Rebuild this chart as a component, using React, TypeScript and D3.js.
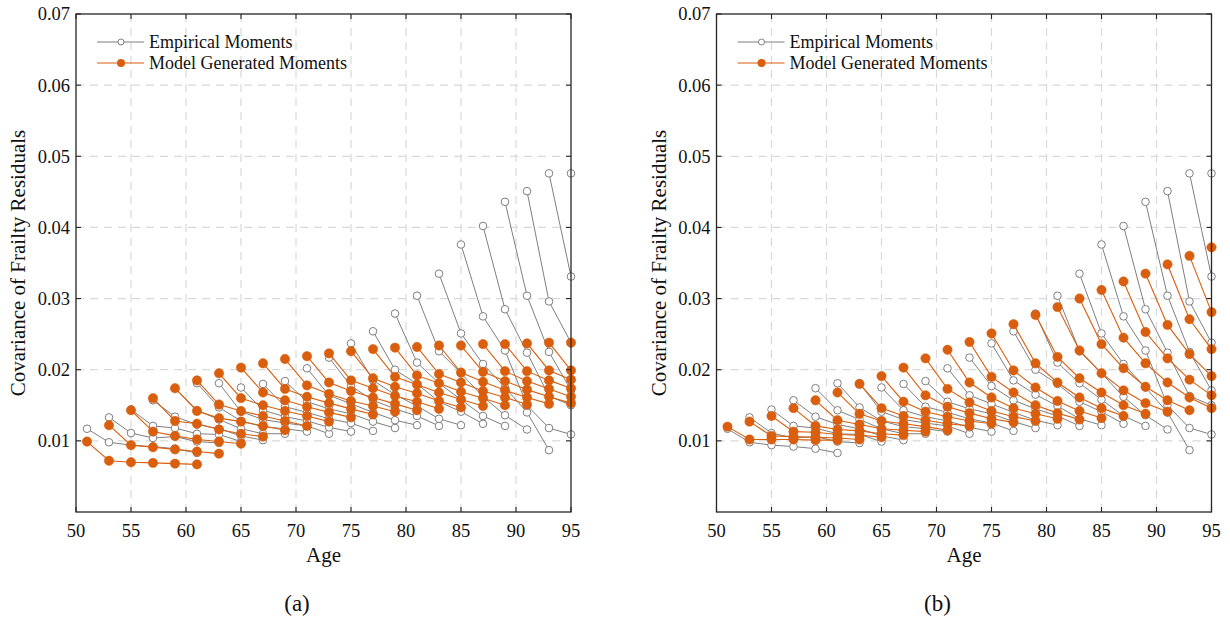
import React from 'react';
import * as d3 from 'd3';

// Starting age of each covariance profile (lags of 0, 2, 4, ... years)
const START_AGES = [51, 53, 55, 57, 59, 61, 63, 65, 67, 69, 71, 73, 75, 77, 79, 81, 83, 85, 87, 89, 91, 93, 95];

// Empirical moments (same in both panels), one row per starting age
const EMPIRICAL = [
  [0.0117, 0.0098, 0.0094, 0.0092, 0.0089, 0.0083],
  [0.0133, 0.0111, 0.0104, 0.0106, 0.0099, 0.0097],
  [0.0144, 0.0121, 0.0118, 0.0110, 0.0109, 0.0099],
  [0.0157, 0.0134, 0.0123, 0.0117, 0.0107, 0.0101],
  [0.0174, 0.0143, 0.0130, 0.0117, 0.0110, 0.0110],
  [0.0181, 0.0147, 0.0128, 0.0120, 0.0117, 0.0113],
  [0.0181, 0.0141, 0.0130, 0.0125, 0.0121, 0.0110],
  [0.0175, 0.0143, 0.0134, 0.0128, 0.0119, 0.0113],
  [0.0180, 0.0148, 0.0140, 0.0131, 0.0125, 0.0114],
  [0.0184, 0.0155, 0.0145, 0.0138, 0.0127, 0.0118],
  [0.0202, 0.0164, 0.0152, 0.0140, 0.0129, 0.0122],
  [0.0217, 0.0177, 0.0157, 0.0145, 0.0135, 0.0121],
  [0.0237, 0.0185, 0.0165, 0.0149, 0.0131, 0.0122],
  [0.0254, 0.0200, 0.0180, 0.0155, 0.0141, 0.0124],
  [0.0279, 0.0210, 0.0181, 0.0158, 0.0135, 0.0121],
  [0.0304, 0.0226, 0.0195, 0.0162, 0.0136, 0.0116],
  [0.0335, 0.0251, 0.0208, 0.0175, 0.0140, 0.0087],
  [0.0376, 0.0275, 0.0227, 0.0150, 0.0118, 0.0109],
  [0.0402, 0.0285, 0.0224, 0.0163, 0.0150],
  [0.0436, 0.0304, 0.0225, 0.0171],
  [0.0451, 0.0296, 0.0238],
  [0.0476, 0.0331],
  [0.0476],
];

// Model generated moments, panel (a)
const MODEL_A = [
  [0.0099, 0.0072, 0.0070, 0.0069, 0.0068, 0.0067],
  [0.0122, 0.0094, 0.0091, 0.0088, 0.0085, 0.0082],
  [0.0143, 0.0113, 0.0107, 0.0102, 0.0099, 0.0096],
  [0.0160, 0.0128, 0.0124, 0.0116, 0.0110, 0.0106],
  [0.0174, 0.0142, 0.0132, 0.0127, 0.0121, 0.0115],
  [0.0185, 0.0151, 0.0142, 0.0135, 0.0128, 0.0121],
  [0.0195, 0.0160, 0.0150, 0.0142, 0.0135, 0.0127],
  [0.0203, 0.0168, 0.0157, 0.0148, 0.0140, 0.0133],
  [0.0209, 0.0173, 0.0162, 0.0153, 0.0145, 0.0137],
  [0.0215, 0.0178, 0.0166, 0.0156, 0.0149, 0.0141],
  [0.0219, 0.0182, 0.0170, 0.0161, 0.0152, 0.0143],
  [0.0223, 0.0185, 0.0174, 0.0163, 0.0155, 0.0145],
  [0.0226, 0.0188, 0.0176, 0.0167, 0.0156, 0.0147],
  [0.0229, 0.0190, 0.0179, 0.0168, 0.0158, 0.0149],
  [0.0231, 0.0192, 0.0181, 0.0169, 0.0160, 0.0150],
  [0.0232, 0.0194, 0.0182, 0.0170, 0.0161, 0.0151],
  [0.0234, 0.0196, 0.0183, 0.0171, 0.0161, 0.0152],
  [0.0234, 0.0197, 0.0184, 0.0172, 0.0162, 0.0153],
  [0.0236, 0.0198, 0.0184, 0.0173, 0.0162],
  [0.0236, 0.0198, 0.0185, 0.0174],
  [0.0237, 0.0199, 0.0186],
  [0.0238, 0.0199],
  [0.0238],
];

// Model generated moments, panel (b)
const MODEL_B = [
  [0.0120, 0.0102, 0.0102, 0.0102, 0.0101, 0.0101],
  [0.0127, 0.0107, 0.0106, 0.0105, 0.0104, 0.0102],
  [0.0135, 0.0113, 0.0112, 0.0109, 0.0108, 0.0105],
  [0.0146, 0.0121, 0.0116, 0.0114, 0.0110, 0.0108],
  [0.0157, 0.0129, 0.0123, 0.0117, 0.0115, 0.0113],
  [0.0168, 0.0138, 0.0128, 0.0124, 0.0120, 0.0115],
  [0.0180, 0.0146, 0.0135, 0.0129, 0.0124, 0.0121],
  [0.0191, 0.0155, 0.0141, 0.0134, 0.0128, 0.0124],
  [0.0203, 0.0164, 0.0148, 0.0139, 0.0131, 0.0126],
  [0.0216, 0.0173, 0.0154, 0.0142, 0.0134, 0.0128],
  [0.0228, 0.0182, 0.0161, 0.0146, 0.0138, 0.0131],
  [0.0239, 0.0190, 0.0168, 0.0150, 0.0139, 0.0130],
  [0.0251, 0.0199, 0.0175, 0.0156, 0.0142, 0.0132],
  [0.0264, 0.0209, 0.0182, 0.0161, 0.0146, 0.0135],
  [0.0277, 0.0218, 0.0188, 0.0168, 0.0150, 0.0138],
  [0.0288, 0.0227, 0.0195, 0.0171, 0.0153, 0.0141],
  [0.0300, 0.0236, 0.0202, 0.0176, 0.0157, 0.0143],
  [0.0312, 0.0245, 0.0209, 0.0182, 0.0161, 0.0146],
  [0.0324, 0.0253, 0.0216, 0.0186, 0.0164],
  [0.0335, 0.0263, 0.0222, 0.0191],
  [0.0348, 0.0271, 0.0229],
  [0.0360, 0.0281],
  [0.0372],
];

const X_TICKS = [50, 55, 60, 65, 70, 75, 80, 85, 90, 95];
const Y_TICKS = [0.01, 0.02, 0.03, 0.04, 0.05, 0.06, 0.07];
const Y_TICK_LABELS = ['0.01', '0.02', '0.03', '0.04', '0.05', '0.06', '0.07'];
const LEGEND_LABELS = ['Empirical Moments', 'Model Generated Moments'];
const X_LABEL = 'Age';
const Y_LABEL = 'Covariance of Frailty Residuals';
const CAPTIONS = ['(a)', '(b)'];

const W = 1230;
const H = 619;
const GRAY = '#7f7f7f';
const ORANGE = '#D95F0E';
const AXIS = '#262626';
const GRID = '#d9d9d9';
const FONT = '"Liberation Serif", "Times New Roman", serif';

type Pt = [number, number];

function Panel({ left, model, caption }: { left: number; model: number[][]; caption: string }) {
  const right = left + 495;
  const top = 14;
  const bottom = 512;
  const x = d3.scaleLinear().domain([50, 95]).range([left, right]);
  const y = d3.scaleLinear().domain([0, 0.07]).range([bottom, top]);
  const line = d3.line<Pt>().x((d) => x(d[0])).y((d) => y(d[1]));
  const toPts = (vals: number[], s: number): Pt[] => vals.map((v, k) => [s + 2 * k, v] as Pt);

  const empLines = EMPIRICAL.map((vals, i) => toPts(vals, START_AGES[i]));
  const modLines = model.map((vals, i) => toPts(vals, START_AGES[i]));
  const tickLen = 5;

  const legX = left + 21;
  const legY0 = 42;
  const legY1 = 63;

  return (
    <g>
      {/* grid */}
      {X_TICKS.filter((t) => t > 50 && t < 95).map((t) => (
        <line key={'gx' + t} x1={x(t)} x2={x(t)} y1={top} y2={bottom} stroke={GRID} strokeWidth={1.2} strokeDasharray="8,6" />
      ))}
      {Y_TICKS.filter((t) => t < 0.07).map((t) => (
        <line key={'gy' + t} x1={left} x2={right} y1={y(t)} y2={y(t)} stroke={GRID} strokeWidth={1.2} strokeDasharray="8,6" />
      ))}

      {/* empirical */}
      {empLines.map((pts, i) => (
        <path key={'el' + i} d={line(pts) || ''} fill="none" stroke={GRAY} strokeWidth={1} />
      ))}
      {empLines.map((pts, i) =>
        pts.map((p, j) => (
          <circle key={'ec' + i + '_' + j} cx={x(p[0])} cy={y(p[1])} r={3.8} fill="white" stroke={GRAY} strokeWidth={1} />
        ))
      )}

      {/* model */}
      {modLines.map((pts, i) => (
        <path key={'ml' + i} d={line(pts) || ''} fill="none" stroke={ORANGE} strokeWidth={1.1} />
      ))}
      {modLines.map((pts, i) =>
        pts.map((p, j) => (
          <circle key={'mc' + i + '_' + j} cx={x(p[0])} cy={y(p[1])} r={4.7} fill={ORANGE} stroke={ORANGE} strokeWidth={0.5} />
        ))
      )}

      {/* axes box */}
      <rect x={left} y={top} width={right - left} height={bottom - top} fill="none" stroke={AXIS} strokeWidth={1.3} />
      {X_TICKS.map((t) => (
        <g key={'tx' + t}>
          <line x1={x(t)} x2={x(t)} y1={bottom} y2={bottom - tickLen} stroke={AXIS} strokeWidth={1.1} />
          <line x1={x(t)} x2={x(t)} y1={top} y2={top + tickLen} stroke={AXIS} strokeWidth={1.1} />
          <text x={x(t)} y={bottom + 25} textAnchor="middle" fontFamily={FONT} fontSize={18.5} fill="#111">
            {t}
          </text>
        </g>
      ))}
      {Y_TICKS.map((t, i) => (
        <g key={'ty' + t}>
          <line x1={left} x2={left + tickLen} y1={y(t)} y2={y(t)} stroke={AXIS} strokeWidth={1.1} />
          <line x1={right} x2={right - tickLen} y1={y(t)} y2={y(t)} stroke={AXIS} strokeWidth={1.1} />
          <text x={left - 6} y={y(t)} dy="0.35em" textAnchor="end" fontFamily={FONT} fontSize={18.5} fill="#111">
            {Y_TICK_LABELS[i]}
          </text>
        </g>
      ))}

      {/* labels */}
      <text x={(left + right) / 2} y={bottom + 50} textAnchor="middle" fontFamily={FONT} fontSize={21} fill="#111">
        {X_LABEL}
      </text>
      <text
        transform={`translate(${left - 58},${(top + bottom) / 2}) rotate(-90)`}
        textAnchor="middle"
        dy="0.35em"
        fontFamily={FONT}
        fontSize={21}
        fill="#111"
      >
        {Y_LABEL}
      </text>
      <text x={left + 221} y={611} textAnchor="middle" fontFamily={FONT} fontSize={23} fill="#111">
        {caption}
      </text>

      {/* legend */}
      <line x1={legX} x2={legX + 47} y1={legY0} y2={legY0} stroke={GRAY} strokeWidth={1} />
      <circle cx={legX + 24} cy={legY0} r={3} fill="white" stroke={GRAY} strokeWidth={1} />
      <text x={legX + 52} y={legY0} dy="0.33em" fontFamily={FONT} fontSize={18} fill="#111">
        {LEGEND_LABELS[0]}
      </text>
      <line x1={legX} x2={legX + 47} y1={legY1} y2={legY1} stroke={ORANGE} strokeWidth={1.1} />
      <circle cx={legX + 24} cy={legY1} r={4} fill={ORANGE} />
      <text x={legX + 52} y={legY1} dy="0.33em" fontFamily={FONT} fontSize={18} fill="#111">
        {LEGEND_LABELS[1]}
      </text>
    </g>
  );
}

export default function App() {
  return (
    <svg
      width={W}
      height={H}
      viewBox={`0 0 ${W} ${H}`}
      style={{ position: 'absolute', left: 0, top: 0, background: 'white' }}
    >
      <rect x={0} y={0} width={W} height={H} fill="white" />
      <Panel left={76} model={MODEL_A} caption={CAPTIONS[0]} />
      <Panel left={716.5} model={MODEL_B} caption={CAPTIONS[1]} />
    </svg>
  );
}
